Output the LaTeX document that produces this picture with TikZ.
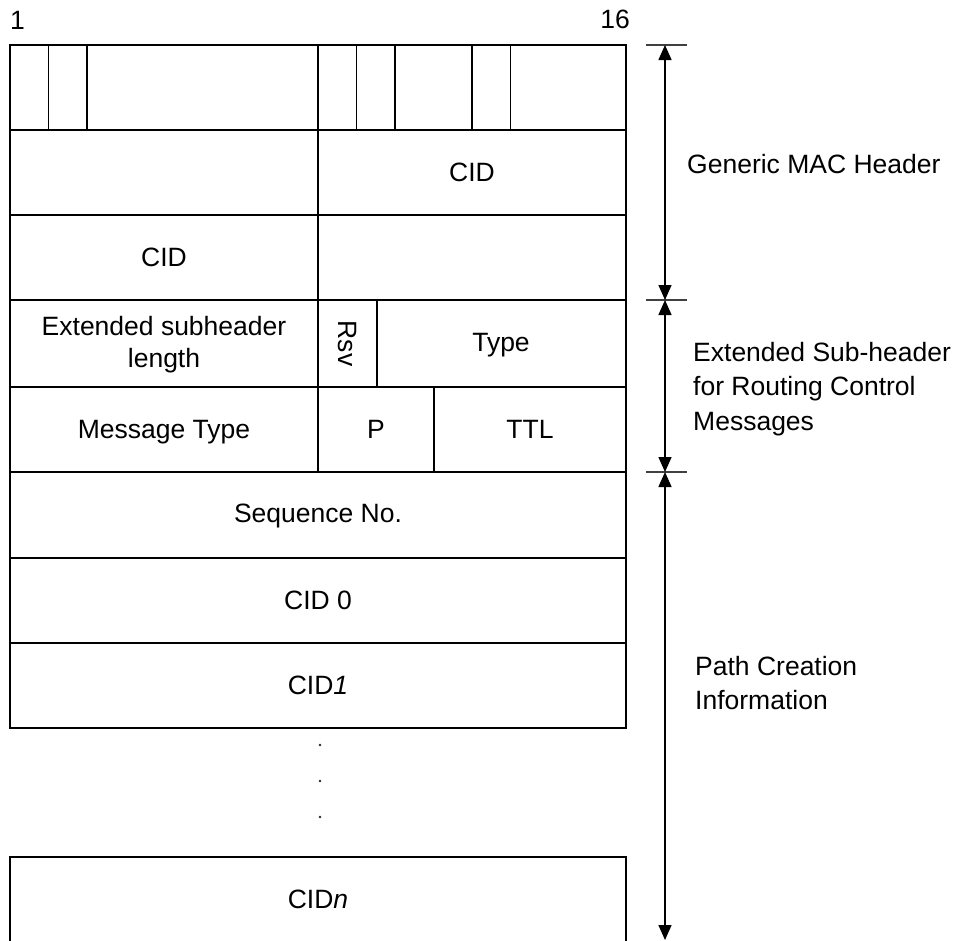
\documentclass[tikz,border=0pt]{standalone}
\usepackage{fontspec}
\setmainfont{Liberation Sans}
\usetikzlibrary{arrows.meta}
\newcommand\fld[6]{%
  \node[cell, minimum width={(#3-#2)*1pt}, minimum height={(#5-#4)*1pt}]
    (#1) at ({(#2+#3)/2},{(#4+#5)/2}) {#6};}
\tikzset{
  cell/.style={draw=black, line width=1.6pt, inner sep=0pt, align=center,
    font=\fontsize{26.5}{32}\selectfont},
  lbl/.style={inner sep=0pt, align=left, font=\fontsize{26.5}{34.5}\selectfont},
  tick/.style={draw=black!75, line width=2.2pt},
  dimarrows/.style={draw=black, line width=1.5pt,
    {Triangle[length=15pt,width=13pt]}-{Triangle[length=15pt,width=13pt]}},
}
\begin{document}
\begin{tikzpicture}[x=1pt,y=-1pt]
\useasboundingbox (0,0) rectangle (958,940);
% bit numbers
\node[lbl, anchor=base west] (b1) at (10,29) {1};
\node[lbl, anchor=base east] (b16) at (630,28) {16};
% row 1
\fld{r1a}{10}{48.5}{45}{130}{}
\fld{r1b}{48.5}{87}{45}{130}{}
\fld{r1c}{87}{318}{45}{130}{}
\fld{r1d}{318}{356.5}{45}{130}{}
\fld{r1e}{356.5}{395}{45}{130}{}
\fld{r1f}{395}{472}{45}{130}{}
\fld{r1g}{472}{510.5}{45}{130}{}
\fld{r1h}{510.5}{626}{45}{130}{}
% row 2
\fld{r2a}{10}{318}{130}{215}{}
\fld{r2b}{318}{626}{130}{215}{CID}
% row 3
\fld{r3a}{10}{318}{215}{300}{CID}
\fld{r3b}{318}{626}{215}{300}{}
% row 4
\fld{r4a}{10}{318}{300}{387}{}
\node[cell, draw=none] (eslen) at (164,345) {Extended subheader\\length};
\fld{r4b}{318}{377}{300}{387}{}
\node[cell, draw=none, rotate=-90] (rsv) at (347.5,343.5) {Rsv};
\node[cell, draw=none] (r4c0) at (501,345) {};
\fld{r4c}{377}{626}{300}{387}{}
\node[cell, draw=none] (type) at (501,345) {Type};
% row 5
\fld{r5a}{10}{318}{387}{472}{}
\node[cell, draw=none] (mtype) at (164,432) {Message Type};
\fld{r5b}{318}{434}{387}{472}{P}
\fld{r5c}{434}{626}{387}{472}{TTL}
% rows 6-8
\fld{r6}{10}{626}{472}{558}{}
\node[cell, draw=none] (seq) at (318,516) {Sequence No.};
\fld{r7}{10}{626}{558}{643}{CID 0}
\fld{r8}{10}{626}{643}{728}{CID\textit{1}}
% dots
\foreach \yy in {745,781,817}
  \fill[black!85] (320,\yy) circle (1.3pt);
% last (open) box
\draw[line width=1.6pt] (10,942) -- (10,857) -- (626,857) -- (626,942);
\node[cell, draw=none] (cidn) at (318,899) {CID\textit{n}};
% dimension marks
\coordinate (t1) at (665,45);
\coordinate (t2) at (665,300);
\coordinate (t3) at (665,472);
\coordinate (t4) at (665,940);
\draw[tick] (646,45) -- (687,45);
\draw[tick] (646,300) -- (687,300);
\draw[tick] (646,472) -- (687,472);
\draw[dimarrows] (t1) -- (t2);
\draw[dimarrows] (t2) -- (t3);
\draw[dimarrows] (t3) -- (t4);
% labels
\node[lbl, anchor=base west] (gmh) at (687,173) {Generic MAC Header};
\node[lbl, anchor=west] (esh) at (693,389) {Extended Sub-header\\for Routing Control\\Messages};
\node[lbl, anchor=west] (pci) at (695,683) {Path Creation\\Information};
\end{tikzpicture}
\end{document}
